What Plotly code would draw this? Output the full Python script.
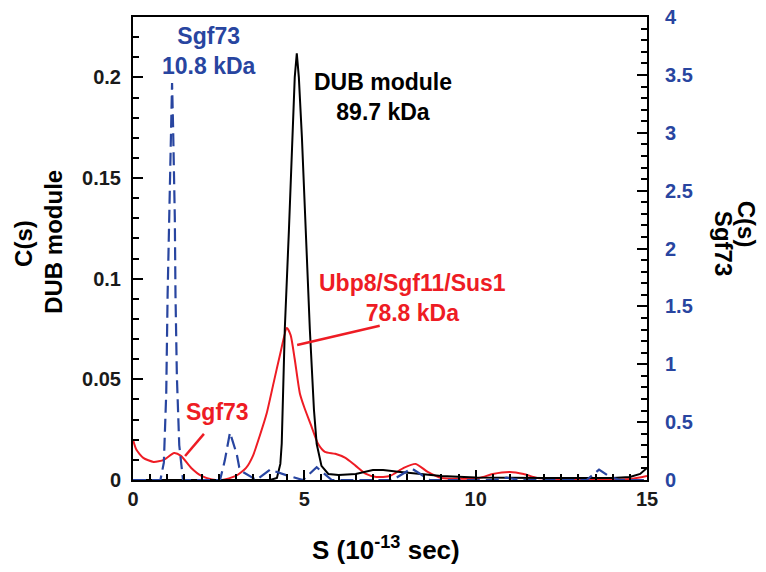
import plotly.graph_objects as go

# S values (10^-13 sec) and c(s) for DUB module (left axis)
dub_s = [0, 1, 2, 3, 4.0, 4.2, 4.3, 4.34, 4.43, 4.55, 4.65, 4.72, 4.78, 4.84, 4.93, 5.04, 5.16,
         5.28, 5.36, 5.5, 5.7, 6.0, 6.5, 7.0, 7.3, 7.8, 8.5, 9.0, 10, 11, 12, 13, 14, 14.5, 14.8, 15]
dub_c = [0, 0, 0, 0, 0.0, 0.001, 0.008, 0.018, 0.075, 0.124, 0.17, 0.2, 0.212, 0.2, 0.17, 0.124, 0.075,
         0.035, 0.018, 0.007, 0.003, 0.0025, 0.003, 0.005, 0.005, 0.004, 0.003, 0.002, 0.0012, 0.001,
         0.001, 0.001, 0.001, 0.0015, 0.003, 0.006]

# Ubp8/Sgf11/Sus1 (left axis)
ubp_s = [0, 0.1, 0.3, 0.6, 0.9, 1.2, 1.4, 1.7, 2.0, 2.3, 2.6, 3.0, 3.3, 3.5, 3.7, 3.9, 4.1, 4.3, 4.49,
         4.6, 4.72, 4.87, 5.0, 5.2, 5.4, 5.6, 5.9, 6.2, 6.5, 6.8, 7.1, 7.5, 7.9, 8.25, 8.6, 9.0, 10.1,
         10.5, 11.0, 11.4, 11.8, 12.5, 14.5, 15]
ubp_c = [0.02, 0.015, 0.011, 0.009, 0.01, 0.0134, 0.012, 0.006, 0.002, 0.0003, 0.0, 0.002, 0.006, 0.012,
         0.022, 0.033, 0.048, 0.063, 0.0755, 0.072, 0.06, 0.043, 0.036, 0.027, 0.018, 0.014, 0.013, 0.011,
         0.007, 0.003, 0.0015, 0.002, 0.006, 0.008, 0.004, 0.001, 0.001, 0.003, 0.004, 0.003, 0.001,
         0.0005, 0.0005, 0.002]

# Sgf73 (right axis)
sgf_s = [0, 0.8, 0.9, 0.97, 1.01, 1.05, 1.1, 1.14, 1.17, 1.22, 1.24, 1.28, 1.35, 1.46, 2.54, 2.68, 2.83,
         3.03, 3.1, 3.2, 3.6, 4.0, 4.49, 4.96, 5.36, 5.8, 7.58, 8.13, 8.66, 10.5, 10.9, 11.3, 13.24, 13.6,
         13.9, 14.2, 15]
sgf_c = [0, 0, 0.15, 0.75, 1.6, 2.27, 3.05, 3.43, 3.05, 2.27, 1.6, 0.9, 0.3, 0, 0, 0.17, 0.41,
         0.22, 0.11, 0.07, 0, 0.09, 0.04, 0, 0.11, 0, 0, 0.1, 0, 0, 0.02, 0, 0, 0.09,
         0.03, 0, 0]

x_ticks = [0, 5, 10, 15]
y_left_ticks = [0, 0.05, 0.1, 0.15, 0.2]
y_right_ticks = [0, 0.5, 1, 1.5, 2, 2.5, 3, 3.5, 4]

BLUE = "#2845a0"
RED = "#ee1c24"
FONT = "Liberation Sans, Arial, sans-serif"

fig = go.Figure()
fig.add_trace(go.Scatter(x=sgf_s, y=sgf_c, yaxis="y2", mode="lines",
                         line=dict(color=BLUE, width=2.2, dash="13px,6px"), showlegend=False))
fig.add_trace(go.Scatter(x=ubp_s, y=ubp_c, mode="lines", line=dict(color=RED, width=2, shape="spline", smoothing=0.6),
                         showlegend=False))
fig.add_trace(go.Scatter(x=dub_s, y=dub_c, mode="lines", line=dict(color="black", width=2), showlegend=False))

axis_common = dict(showline=True, linecolor="black", linewidth=2, ticks="inside", tickcolor="black",
                   tickwidth=2, ticklen=10, showgrid=False, zeroline=False, automargin=False)

# page body adds an 8px offset; plot area spans x 133..647, y 17..480 in the window
fig.update_layout(
    template="none",
    width=758, height=564,
    margin=dict(l=125, r=119, t=9, b=92, pad=0),
    plot_bgcolor="white", paper_bgcolor="white",
    font=dict(family=FONT, color="#1a1a1a"),
    xaxis=dict(range=[0, 15], tickvals=x_ticks, mirror=True,
               tickfont=dict(size=20, weight="bold", color="#1a1a1a"),
               minor=dict(dtick=0.5, ticks="inside", ticklen=6, tickwidth=2, tickcolor="black"),
               **axis_common),
    yaxis=dict(range=[0, 0.23], tickvals=y_left_ticks, ticktext=["0", "0.05", "0.1", "0.15", "0.2"],
               tickfont=dict(size=20, weight="bold", color="#1a1a1a"),
               minor=dict(dtick=0.01, ticks="inside", ticklen=6, tickwidth=2, tickcolor="black"),
               ticklabelstandoff=6, **axis_common),
    yaxis2=dict(range=[0, 4.001], tickvals=y_right_ticks, overlaying="y", side="right",
                tickfont=dict(size=20, weight="bold", color=BLUE),
                minor=dict(dtick=0.1, ticks="inside", ticklen=6, tickwidth=2, tickcolor="black"),
                ticklabelstandoff=12, ticklabeloverflow="allow", **axis_common),
)

def A(text, x, y, xref="paper", size=23, color="black", angle=0):
    return dict(text=text, x=x, y=y, xref=xref, yref="paper", textangle=angle, showarrow=False,
                xanchor="center", yanchor="middle", font=dict(size=size, weight="bold", color=color))

ann = [
    A("C(s)", -0.212, 0.510, size=24, angle=-90),
    A("DUB module", -0.156, 0.514, size=24, angle=-90),
    A("C(s)", 1.193, 0.553, size=24, angle=90),
    A("Sgf73", 1.148, 0.512, size=24, angle=90),
    A("S (10<sup>-13</sup> sec)", 0.492, -0.147, size=26),
    A("Sgf73<br>10.8 kDa", 2.22, 0.927, xref="x", color=BLUE),
    A("DUB module<br>89.7 kDa", 7.3, 0.827, xref="x"),
    A("Ubp8/Sgf11/Sus1<br>78.8 kDa", 8.17, 0.393, xref="x", color=RED),
    A("Sgf73", 2.48, 0.147, xref="x", color=RED),
]
fig.update_layout(annotations=ann)

fig.add_shape(type="line", x0=4.79, y0=0.0671, x1=7.2, y1=0.0766, xref="x", yref="y",
              line=dict(color=RED, width=2.5))
fig.add_shape(type="line", x0=1.52, y0=0.0119, x1=2.07, y1=0.0229, xref="x", yref="y",
              line=dict(color=RED, width=2.5))

fig.write_html("out.html")
